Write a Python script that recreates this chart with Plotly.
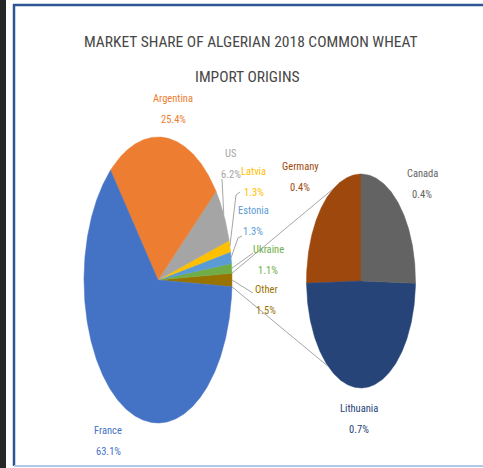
import numpy as np
import plotly.graph_objects as go

# ---------------- data ----------------
main_labels = ["France", "Argentina", "US", "Latvia", "Estonia", "Ukraine", "Other"]
main_values = [63.1, 25.4, 6.2, 1.3, 1.3, 1.1, 1.5]
main_colors = ["#4472C4", "#ED7D31", "#A5A5A5", "#FFC000", "#5B9BD5", "#70AD47", "#997300"]

sub_labels = ["Germany", "Canada", "Lithuania"]
sub_values = [0.38, 0.38, 0.74]
sub_colors = ["#9E480E", "#636363", "#264478"]

title_lines = ["MARKET SHARE OF ALGERIAN 2018 COMMON WHEAT", "IMPORT ORIGINS"]

# ---------------- geometry / style ----------------
W, H = 483, 468
FONT = "Liberation Sans Narrow, Roboto Condensed, Arial Narrow, sans-serif"
MAIN_C, MAIN_RX, MAIN_RY = (158, 280), 74, 143
SUB_C, SUB_RX, SUB_RY = (361, 281), 54.5, 107

fig = go.Figure()


def pt(center, rx, ry, ang_deg):
    a = np.radians(ang_deg)
    return center[0] + rx * np.cos(a), center[1] - ry * np.sin(a)


def add_slice(center, rx, ry, a0, a1, color, name):
    n = max(int(abs(a1 - a0) * 2), 4)
    angs = np.linspace(a0, a1, n)
    xs, ys = pt(center, rx, ry, angs)
    xs = np.concatenate([[center[0]], xs, [center[0]]])
    ys = np.concatenate([[center[1]], ys, [center[1]]])
    fig.add_trace(go.Scatter(x=xs, y=ys, fill="toself", fillcolor=color, mode="lines",
                             line=dict(color=color, width=0.5), hoverinfo="skip", name=name,
                             showlegend=False))


# main pie: counter-clockwise order starting with the "Other" slice centred at 3 o'clock
main_total = sum(main_values)
main_deg = {lab: v / main_total * 360 for lab, v in zip(main_labels, main_values)}
ccw_main = ["Other", "Ukraine", "Estonia", "Latvia", "US", "Argentina", "France"]
start = -main_deg["Other"] / 2
main_mid = {}
for lab in ccw_main:
    a0, a1 = start, start + main_deg[lab]
    add_slice(MAIN_C, MAIN_RX, MAIN_RY, a0, a1, main_colors[main_labels.index(lab)], lab)
    main_mid[lab] = (a0 + a1) / 2
    start = a1
other_half = main_deg["Other"] / 2

# secondary pie
sub_total = sum(sub_values)
sub_deg = {lab: v / sub_total * 360 for lab, v in zip(sub_labels, sub_values)}
ccw_sub = ["Germany", "Lithuania", "Canada"]
start = 90
for lab in ccw_sub:
    a0, a1 = start, start + sub_deg[lab]
    add_slice(SUB_C, SUB_RX, SUB_RY, a0, a1, sub_colors[sub_labels.index(lab)], lab)
    start = a1

LINE_COL = "#A6A6A6"


def add_line(xs, ys):
    fig.add_trace(go.Scatter(x=xs, y=ys, mode="lines", line=dict(color=LINE_COL, width=1),
                             hoverinfo="skip", showlegend=False))


# connector lines between main "Other" slice and secondary pie
for sgn, sub_ang in [(1, 120), (-1, -127)]:
    x0, y0 = pt(MAIN_C, MAIN_RX, MAIN_RY, sgn * other_half)
    x1, y1 = pt(SUB_C, SUB_RX, SUB_RY, sub_ang)
    add_line([x0, x1], [y0, y1])

# leader lines for the small slices (label-side end points)
leader_ends = {
    "US": [(222, 179)],
    "Latvia": [(236, 195), (240, 192)],
    "Estonia": [(238, 238), (242, 236)],
    "Ukraine": [(253, 253)],
    "Other": [(253, 293)],
}
for lab, ends in leader_ends.items():
    x0, y0 = pt(MAIN_C, MAIN_RX, MAIN_RY, main_mid[lab])
    add_line([x0] + [e[0] for e in ends], [y0] + [e[1] for e in ends])

# data labels (name line position; percentage line below)
label_pos = {
    "Argentina": (173, 98), "US": (231, 153), "Latvia": (253.5, 171), "Estonia": (253, 210),
    "Ukraine": (268, 249), "Other": (266, 289), "France": (108, 430),
    "Germany": (300, 166), "Canada": (422, 173), "Lithuania": (359, 408),
}
GAP = 21
all_vals = dict(zip(main_labels, main_values))
all_vals.update(dict(zip(sub_labels, sub_values)))
all_cols = dict(zip(main_labels, main_colors))
all_cols.update(dict(zip(sub_labels, sub_colors)))
for lab, (lx, ly) in label_pos.items():
    col = all_cols[lab]
    fig.add_annotation(x=lx, y=ly, text=lab, showarrow=False, xref="x", yref="y",
                       font=dict(family=FONT, size=10.5, color=col))
    fig.add_annotation(x=lx, y=ly + GAP, text=f"{all_vals[lab]:.1f}%", showarrow=False, xref="x", yref="y",
                       font=dict(family=FONT, size=10.5, color=col))

# title
fig.add_annotation(x=251, y=42, text=title_lines[0], showarrow=False, xref="x", yref="y",
                   font=dict(family=FONT, size=15.5, color="#474747"))
fig.add_annotation(x=247, y=77, text=title_lines[1], showarrow=False, xref="x", yref="y",
                   font=dict(family=FONT, size=15.5, color="#474747"))

# frame decorations
fig.add_shape(type="rect", x0=0, x1=6, y0=0, y1=H, xref="x", yref="y", fillcolor="#262626",
              line_width=0, layer="below")
fig.add_shape(type="line", x0=13, x1=W, y0=5, y1=5, xref="x", yref="y", line=dict(color="#2E5597", width=2.5))
fig.add_shape(type="line", x0=14, x1=14, y0=4, y1=466, xref="x", yref="y", line=dict(color="#2E5597", width=2.5))
fig.add_shape(type="line", x0=14, x1=W, y0=466, y1=466, xref="x", yref="y", line=dict(color="#B4C7E7", width=2))

fig.update_layout(
    width=W, height=H, margin=dict(l=0, r=0, t=0, b=0),
    paper_bgcolor="white", plot_bgcolor="white",
    xaxis=dict(range=[0, W], visible=False, fixedrange=True),
    yaxis=dict(range=[H, 0], visible=False, fixedrange=True),
    showlegend=False,
)
fig.write_html("out.html", config={"displayModeBar": False, "staticPlot": True},
               post_script="document.body.style.margin='0';document.body.style.overflow='hidden';")
